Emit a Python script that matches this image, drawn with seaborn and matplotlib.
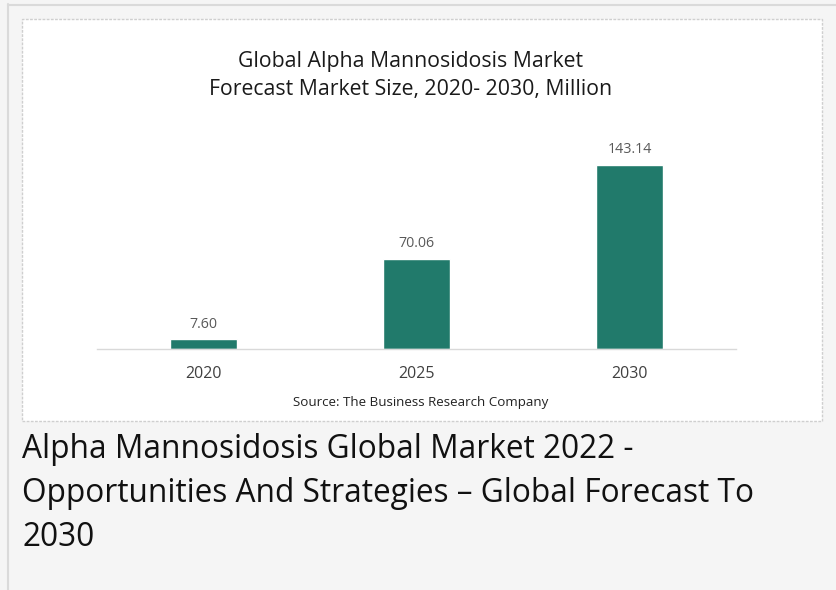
import matplotlib
matplotlib.use("Agg")
import matplotlib.pyplot as plt
from matplotlib.patches import Rectangle
from matplotlib.lines import Line2D
import seaborn as sns
import pandas as pd

years = ["2020", "2025", "2030"]
values = [7.60, 70.06, 143.14]
labels = ["7.60", "70.06", "143.14"]

sns.set_theme(style="white")
plt.rcParams['font.family'] = ['Open Sans', 'DejaVu Sans']

W, H = 836, 590
fig = plt.figure(figsize=(W / 100, H / 100), dpi=100)
fig.patch.set_facecolor("#f5f5f5")

def fx(x): return x / W
def fy(y): return 1 - y / H

# outer borders
fig.add_artist(Line2D([fx(8), fx(8)], [fy(4), 0], color="#dadada", lw=1.5, transform=fig.transFigure))
fig.add_artist(Line2D([fx(8), 1], [fy(4.5), fy(4.5)], color="#dadada", lw=1.5, transform=fig.transFigure))
# white chart box
fig.add_artist(Rectangle((fx(22), fy(421)), fx(822) - fx(22), fy(19) - fy(421),
                         transform=fig.transFigure, facecolor="white",
                         edgecolor="#cfcfcf", lw=1.0, ls=(0, (2, 1)), zorder=0))

ax = fig.add_axes([fx(97), fy(349), fx(736) - fx(97), fy(130) - fy(349)])
ax.set_facecolor("none")
df = pd.DataFrame({"year": years, "value": values})
sns.barplot(data=df, x="year", y="value", color="#217a6b", width=0.315,
            saturation=1, ax=ax)
ax.set_xlim(-0.5, 2.5)
ax.set_ylim(0, 170.4)
for i, (v, lab) in enumerate(zip(values, labels)):
    ax.annotate(lab, (i, v), xytext=(0, 5.5), textcoords="offset points",
                ha="center", va="bottom", fontsize=10.3, color="#595959")
ax.set_yticks([])
ax.set_xlabel("")
ax.set_ylabel("")
for s in ["top", "right", "left"]:
    ax.spines[s].set_visible(False)
ax.spines["bottom"].set_color("#d9d9d9")
ax.spines["bottom"].set_linewidth(1.0)
ax.tick_params(axis="x", length=0, pad=12, labelsize=11.5, labelcolor="#404040")

fig.text(fx(411), fy(62), "Global Alpha Mannosidosis Market", ha="center", va="center",
         fontsize=15.3, color="#1a1a1a")
fig.text(fx(411), fy(90), "Forecast Market Size, 2020- 2030, Million", ha="center", va="center",
         fontsize=15.3, color="#1a1a1a")
fig.text(fx(421), fy(402.5), "Source: The Business Research Company", ha="center", va="center",
         fontsize=9.6, color="#222222")

cap = ["Alpha Mannosidosis Global Market 2022 -",
       "Opportunities And Strategies \u2013 Global Forecast To",
       "2030"]
for k, line in enumerate(cap):
    fig.text(fx(22), fy(449 + 44.5 * k), line, ha="left", va="center",
             fontsize=22.8, color="#111111")

fig.savefig("out.png", dpi=100, facecolor=fig.get_facecolor())
